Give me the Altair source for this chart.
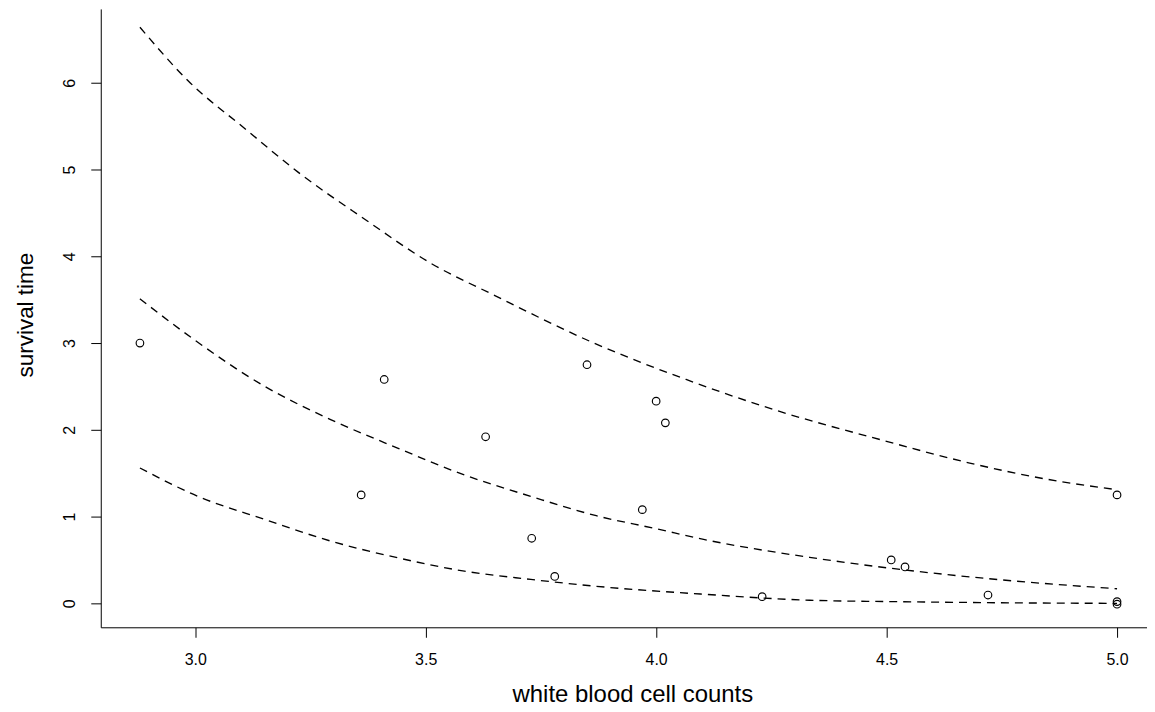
import altair as alt
import pandas as pd

# observed points: log10 white blood cell count vs survival time
wbc = [2.88, 3.36, 3.41, 3.63, 3.73, 3.78, 3.85, 3.97, 4.00, 4.02,
       4.23, 4.51, 4.54, 4.72, 5.00, 5.00, 5.00]
surv = [3.00, 1.25, 2.58, 1.92, 0.75, 0.31, 2.75, 1.08, 2.33, 2.08,
        0.077, 0.50, 0.42, 0.096, 1.25, 0.02, -0.01]

# dashed curves
upper_x = [2.88, 2.985, 3.108, 3.223, 3.367, 3.511, 3.649, 3.865, 4.065,
           4.257, 4.487, 4.678, 4.87, 5.0]
upper_y = [6.64, 6.02, 5.47, 4.97, 4.43, 3.92, 3.55, 3.00, 2.58,
           2.23, 1.886, 1.62, 1.41, 1.31]

middle_x = [2.88, 3.0, 3.151, 3.295, 3.439, 3.584, 3.728, 3.87, 4.0,
            4.103, 4.333, 4.5, 4.75, 5.0]
middle_y = [3.51, 3.03, 2.50, 2.115, 1.79, 1.48, 1.233, 1.01, 0.86,
            0.737, 0.53, 0.41, 0.27, 0.168]

lower_x = [2.88, 3.006, 3.151, 3.295, 3.439, 3.584, 3.728, 3.865, 4.103,
           4.333, 4.563, 4.793, 5.0]
lower_y = [1.56, 1.233, 0.966, 0.716, 0.525, 0.371, 0.276, 0.199, 0.105,
           0.036, 0.017, 0.005, 0.0]

x_ticks = [3.0, 3.5, 4.0, 4.5, 5.0]
y_ticks = [0, 1, 2, 3, 4, 5, 6]

pts = pd.DataFrame({"x": wbc, "y": surv})
curves = pd.concat([
    pd.DataFrame({"x": upper_x, "y": upper_y, "curve": "upper"}),
    pd.DataFrame({"x": middle_x, "y": middle_y, "curve": "middle"}),
    pd.DataFrame({"x": lower_x, "y": lower_y, "curve": "lower"}),
])

FONT = "Liberation Sans"

xscale = alt.Scale(domain=[2.795, 5.065], nice=False, zero=False)
yscale = alt.Scale(domain=[-0.276, 6.851], nice=False, zero=False)

xaxis = alt.Axis(values=x_ticks, format=".1f", tickSize=10, labelPadding=14,
                 labelFontSize=16, labelFont=FONT, labelColor="black",
                 domainColor="black", tickColor="black", grid=False,
                 title="white blood cell counts", titleFontSize=24,
                 titleFont=FONT, titleFontWeight="normal", titleColor="black",
                 titleX=533, titleY=74, titleAlign="center",
                 titleBaseline="alphabetic", labelFlush=False)
yaxis = alt.Axis(values=y_ticks, format="d", tickSize=10, labelAngle=270,
                 labelAlign="center", labelBaseline="alphabetic",
                 labelPadding=16, labelFontSize=16, labelFont=FONT,
                 labelColor="black", domainColor="black", tickColor="black",
                 grid=False, title="survival time", titleFontSize=22.5,
                 titleFont=FONT, titleFontWeight="normal", titleColor="black",
                 titleAngle=270, titleX=-68, titleY=306.5, titleAlign="center",
                 titleBaseline="alphabetic", labelFlush=False)

lines = alt.Chart(curves).mark_line(
    color="black", strokeWidth=1.35, strokeDash=[8, 6], interpolate="monotone"
).encode(
    x=alt.X("x:Q", scale=xscale, axis=xaxis),
    y=alt.Y("y:Q", scale=yscale, axis=yaxis),
    detail="curve:N",
)

points = alt.Chart(pts).mark_point(
    shape="circle", filled=False, size=58, strokeWidth=1.15, color="black",
    opacity=1
).encode(
    x=alt.X("x:Q", scale=xscale),
    y=alt.Y("y:Q", scale=yscale),
)

chart = alt.layer(lines, points).properties(
    width=1049, height=620,
    autosize=alt.AutoSizeParams(type="none"),
    padding={"left": 93, "top": 0, "right": 0, "bottom": 80},
    background="white",
).configure_view(stroke=None)

chart.save("out.html", embed_options={"renderer": "svg", "actions": False})
